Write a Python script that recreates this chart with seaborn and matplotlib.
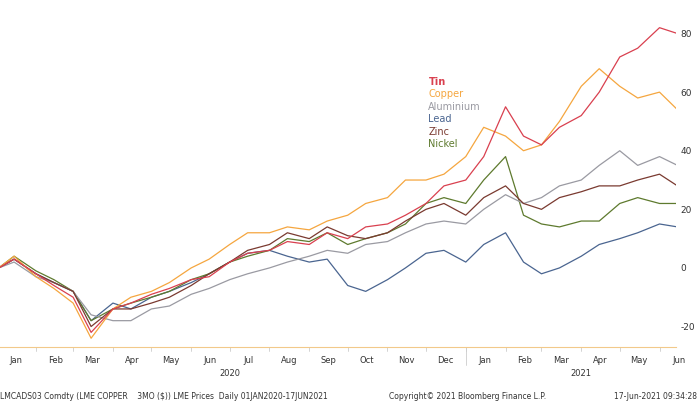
import matplotlib
matplotlib.use("Agg")
import matplotlib.pyplot as plt
import seaborn as sns
import pandas as pd

dates = list(pd.date_range("2020-01-01", "2021-06-30", freq="SMS"))[:36]
dates[0] = pd.Timestamp("2020-01-03")
dates[-1] = pd.Timestamp("2021-06-15")

tin = [0,3,-2,-6,-10,-22,-14,-12,-9,-7,-4,-3,2,5,6,9,8,12,10,14,15,18,22,28,30,38,55,45,42,48,52,60,72,75,82,80]
copper = [0,4,-3,-7,-12,-24,-14,-10,-8,-5,0,3,8,12,12,14,13,16,18,22,24,30,30,32,38,48,45,40,42,50,62,68,62,58,60,54]
aluminium = [0,2,-3,-5,-8,-16,-18,-18,-14,-13,-9,-7,-4,-2,0,2,4,6,5,8,9,12,15,16,15,20,25,22,24,28,30,35,40,35,38,35]
lead = [0,3,-2,-5,-8,-18,-12,-14,-10,-8,-5,-2,2,5,6,4,2,3,-6,-8,-4,0,5,6,2,8,12,2,-2,0,4,8,10,12,15,14]
zinc = [0,3,-2,-5,-8,-20,-14,-14,-12,-10,-6,-2,2,6,8,12,10,14,11,10,12,16,20,22,18,24,28,22,20,24,26,28,28,30,32,28]
nickel = [0,4,-1,-4,-8,-18,-14,-12,-10,-8,-4,-2,2,4,6,10,9,12,8,10,12,15,22,24,22,30,38,18,15,14,16,16,22,24,22,22]

names = ["Tin","Copper","Aluminium","Lead","Zinc","Nickel"]
series = [tin, copper, aluminium, lead, zinc, nickel]
colors = ["#d9404f","#f5a63f","#9a9aa2","#4a6590","#7a3a30","#5e7a2e"]

rows = []
for n, s in zip(names, series):
    for d, v in zip(dates, s):
        rows.append({"date": d, "value": v, "metal": n})
df = pd.DataFrame(rows)

sns.set_theme(style="white")
plt.rcParams['font.family'] = ['DejaVu Sans']
plt.rcParams['axes.unicode_minus'] = False
fig = plt.figure(figsize=(7, 4.04), dpi=100)
ax = fig.add_axes([0.0, 0.141, 0.966, 0.834])
draw_order = ["Lead","Nickel","Aluminium","Zinc","Copper","Tin"]
pal = dict(zip(names, colors))
for n in draw_order:
    sub = df[df.metal == n]
    sns.lineplot(data=sub, x="date", y="value", color=pal[n], lw=0.9, ax=ax, legend=False)

ax.set_xlim(pd.Timestamp("2020-01-04"), pd.Timestamp("2021-06-14"))
ax.set_ylim(-27, 88)
ax.yaxis.tick_right()
ax.set_yticks([-20, 0, 20, 40, 60, 80])
ax.tick_params(axis="y", labelsize=6.5, colors="#333333", length=0, pad=3)
ax.tick_params(axis="x", length=0)
ax.set_xticks([])
ax.set_xlabel(""); ax.set_ylabel("")
for sp in ["top", "left", "right"]:
    ax.spines[sp].set_visible(False)
ax.spines["bottom"].set_color("#f2c98a")
ax.spines["bottom"].set_linewidth(0.8)

months = pd.date_range("2020-01-01", "2021-06-01", freq="MS")
for m in months:
    mid = m + pd.Timedelta(days=15)
    ax.text(mid, -30, m.strftime("%b"), ha="center", va="top", fontsize=6, color="#333333", clip_on=False)
    ax.plot([m, m], [-27, -28.2], color="#cccccc", lw=0.6, clip_on=False)
ax.text(pd.Timestamp("2020-07-01"), -34.5, "2020", ha="center", va="top", fontsize=6, color="#333333", clip_on=False)
ax.text(pd.Timestamp("2021-04-01"), -34.5, "2021", ha="center", va="top", fontsize=6, color="#333333", clip_on=False)
ax.plot([pd.Timestamp("2021-01-01")]*2, [-27, -33], color="#cccccc", lw=0.6, clip_on=False)

fig.text(0.0, 0.012, "LMCADS03 Comdty (LME COPPER    3MO ($)) LME Prices  Daily 01JAN2020-17JUN2021", fontsize=5.5, color="#333333")
fig.text(0.555, 0.012, "Copyright\u00a9 2021 Bloomberg Finance L.P.", fontsize=5.5, color="#333333")
fig.text(0.995, 0.012, "17-Jun-2021 09:34:28", fontsize=5.5, color="#333333", ha="right")

for i, (n, c) in enumerate(zip(names, colors)):
    fig.text(0.612, 0.79 - i * 0.031, n, fontsize=7, color=c, fontweight="bold" if n == "Tin" else "normal")

fig.savefig("out.png", dpi=100, facecolor="white")
